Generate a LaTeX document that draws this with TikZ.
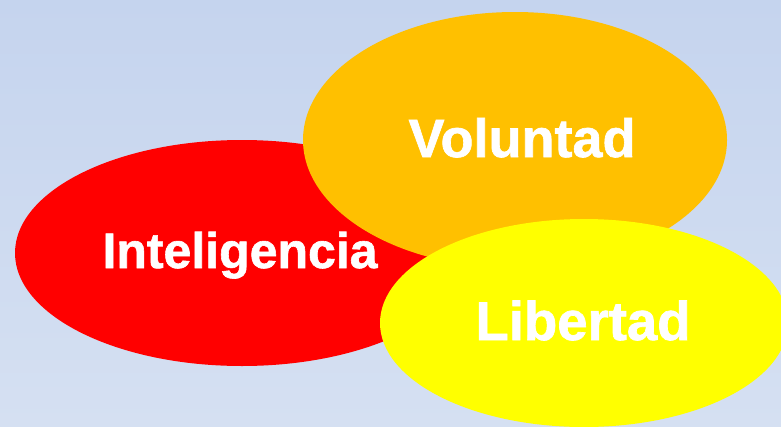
\documentclass[tikz,border=0pt]{standalone}
\usepackage{fontspec}
\setmainfont{Liberation Sans}[BoldFeatures={FakeBold=1.2}]
\begin{document}
\begin{tikzpicture}[x=1pt,y=-1pt,
  lbl/.style={text=white,font=\bfseries,anchor=base,inner sep=0pt}]
\shade[top color={rgb,255:red,197;green,212;blue,238},bottom color={rgb,255:red,213;green,224;blue,242}] (0,0) rectangle (781,426);
\useasboundingbox (0,0) rectangle (781,426);
\fill[red] (242,253) ellipse [x radius=227, y radius=113];
\fill[fill={rgb,255:red,255;green,192;blue,0}] (515,140) ellipse [x radius=212, y radius=128];
\fill[fill={rgb,255:red,255;green,255;blue,0}] (584,323) ellipse [x radius=204, y radius=104];
\node[lbl,font=\fontsize{54}{60}\selectfont\bfseries] (vol) at (522,157) {Voluntad};
\node[lbl,font=\fontsize{50}{60}\selectfont\bfseries] (int) at (240,268) {Inteligencia};
\node[lbl,font=\fontsize{54.5}{60}\selectfont\bfseries] (lib) at (583,340) {Libertad};
\end{tikzpicture}
\end{document}
